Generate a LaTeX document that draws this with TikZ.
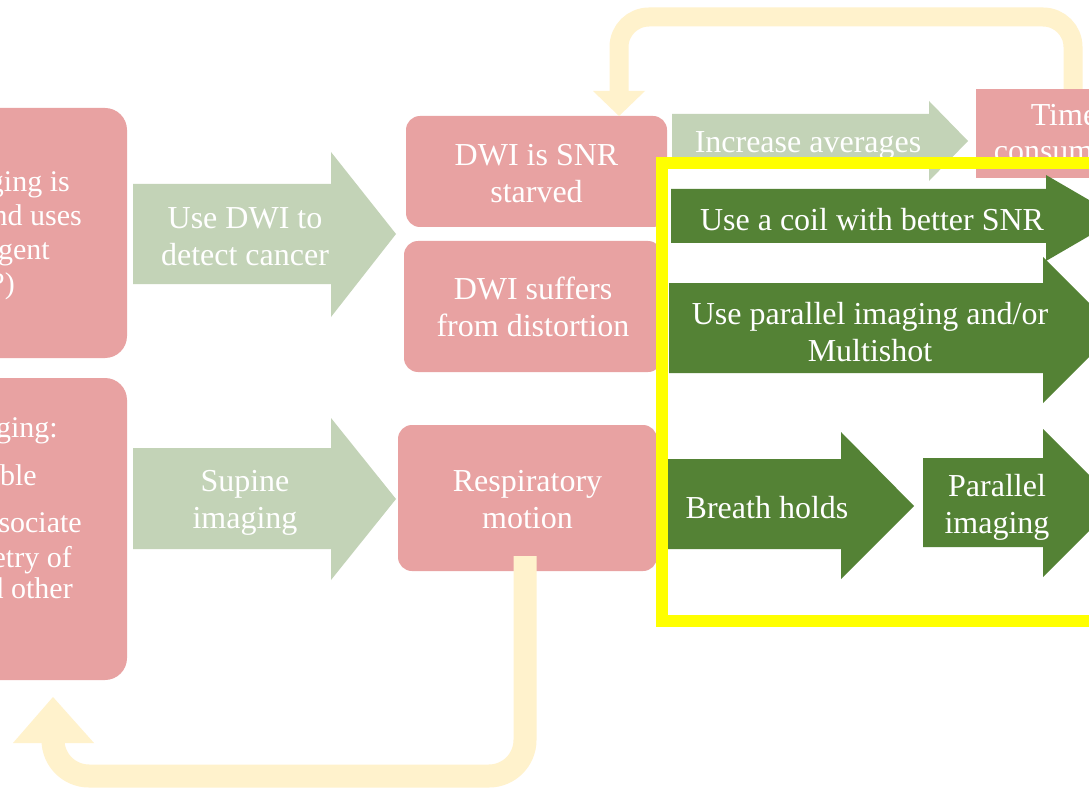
\documentclass[tikz,border=0pt]{standalone}
\usepackage{fontspec}
\setmainfont{Liberation Serif}
\usetikzlibrary{calc}
\definecolor{pinkc}{HTML}{E8A2A2}
\definecolor{lgreen}{HTML}{C3D3B7}
\definecolor{dgreen}{HTML}{548235}
\definecolor{cream}{HTML}{FFF2CC}
\definecolor{yframe}{HTML}{FFFF00}
\tikzset{
  pinkbox/.style={fill=pinkc, draw=none, rounded corners=14pt, text=white, align=center,
    font=\fontsize{32}{37}\selectfont, inner sep=0pt},
  leftbox/.style={fill=pinkc, draw=none, rounded corners=22pt, inner sep=0pt},
  sqbox/.style={fill=pinkc, draw=none, text=white, align=center,
    font=\fontsize{32}{36}\selectfont, inner sep=0pt},
  lefttxt/.style={text=white, font=\fontsize{30}{34}\selectfont, anchor=base east, inner sep=0pt},
  arrtxt/.style={text=white, align=center, font=\fontsize{32}{37}\selectfont, inner sep=0pt},
  lgarrow/.style={fill=lgreen, draw=none},
  dgarrow/.style={fill=dgreen, draw=none},
  looppath/.style={draw=cream, line width=19pt, rounded corners=30pt},
  loophead/.style={fill=cream, draw=none},
  framebox/.style={draw=yframe, line width=12pt}
}
\begin{document}
\begin{tikzpicture}[x=1pt,y=-1pt]
\useasboundingbox (0,0) rectangle (1089,794);
\clip (0,0) rectangle (1089,794);
\fill[white] (0,0) rectangle (1089,794);

% left boxes
\node[leftbox, minimum width=157pt, minimum height=250pt] (lefttop) at (48.5,233) {};
\node[lefttxt] (lt1) at (70,192) {ging is};
\node[lefttxt] (lt2) at (82,226) {nd uses};
\node[lefttxt] (lt3) at (50,260) {gent};
\node[lefttxt] (lt4) at (15,294) {?)};

\node[leftbox, minimum width=157pt, minimum height=302pt] (leftbot) at (48.5,529) {};
\node[lefttxt] (lb1) at (58,437) {ging:};
\node[lefttxt] (lb2) at (37,485) {ble};
\node[lefttxt] (lb3) at (82,532) {sociate};
\node[lefttxt] (lb4) at (72,567) {etry of};
\node[lefttxt] (lb5) at (73,598) {d other};

% light green arrows
\fill[lgarrow] (133,184) -- (331,184) -- (331,152) -- (396,234) -- (331,317) -- (331,284) -- (133,284) -- cycle;
\node[arrtxt] (a1) at (245,237) {Use DWI to\\detect cancer};
\fill[lgarrow] (133,448) -- (331,448) -- (331,418) -- (396,499) -- (331,580) -- (331,549) -- (133,549) -- cycle;
\node[arrtxt] (a2) at (245,503) {Supine\\imaging};

% middle pink boxes
\node[pinkbox, minimum width=261pt, minimum height=111pt] (snr) at (536.5,171.5) {};
\node[arrtxt] (snrt) at (536.5,174) {DWI is SNR\\starved};
\node[pinkbox, minimum width=258pt, minimum height=131pt] (dist) at (533,306.5) {DWI suffers\\from distortion};
\node[pinkbox, minimum width=259pt, minimum height=146pt] (resp) at (527.5,498) {};
\node[arrtxt] (respt) at (527.5,500) {Respiratory\\motion};

% increase averages arrow
\fill[lgarrow] (672,114) -- (929,114) -- (929,101) -- (968,141) -- (929,181) -- (929,168) -- (672,168) -- cycle;
\node[arrtxt] (inc) at (808,145) {Increase averages};

% top loop
\coordinate (t1) at (1073,90);
\coordinate (t2) at (619,91);
\draw[looppath] (t1) -- (1073,17) -- (619,17) -- (t2);
\fill[loophead] (593,91) -- (645,91) -- (619,116) -- cycle;

% time box
\node[sqbox, minimum width=176pt, minimum height=89pt] (time) at (1064,133.5) {};
\node[sqbox, fill=none] (timet) at (1064,136) {Time\\consuming};

% bottom loop
\coordinate (b1) at (525,556);
\coordinate (b2) at (53,743);
\draw[looppath, line width=23pt, rounded corners=36pt] (b1) -- (525,776) -- (53,776) -- (b2);
\fill[loophead] (13,743) -- (94,743) -- (53,697) -- cycle;

% yellow frame
\draw[framebox] (662,163) rectangle (1110,621);

% dark green arrows
\fill[dgarrow] (671,189) -- (1046,189) -- (1046,175) -- (1120,218) -- (1046,261) -- (1046,243) -- (671,243) -- cycle;
\node[arrtxt] (g1) at (872,220) {Use a coil with better SNR};
\fill[dgarrow] (669,283) -- (1043,283) -- (1043,257) -- (1116,330) -- (1043,403) -- (1043,373) -- (669,373) -- cycle;
\node[arrtxt] (g2) at (870,332) {Use parallel imaging and/or\\Multishot};
\fill[dgarrow] (668,459) -- (841,459) -- (841,432) -- (914,506) -- (841,579) -- (841,549) -- (668,549) -- cycle;
\node[arrtxt] (g3) at (767,508) {Breath holds};
\fill[dgarrow] (923,458) -- (1043,458) -- (1043,429) -- (1117,503) -- (1043,577) -- (1043,547) -- (923,547) -- cycle;
\node[arrtxt] (g4) at (997,507) {Parallel\\imaging};
\end{tikzpicture}
\end{document}
